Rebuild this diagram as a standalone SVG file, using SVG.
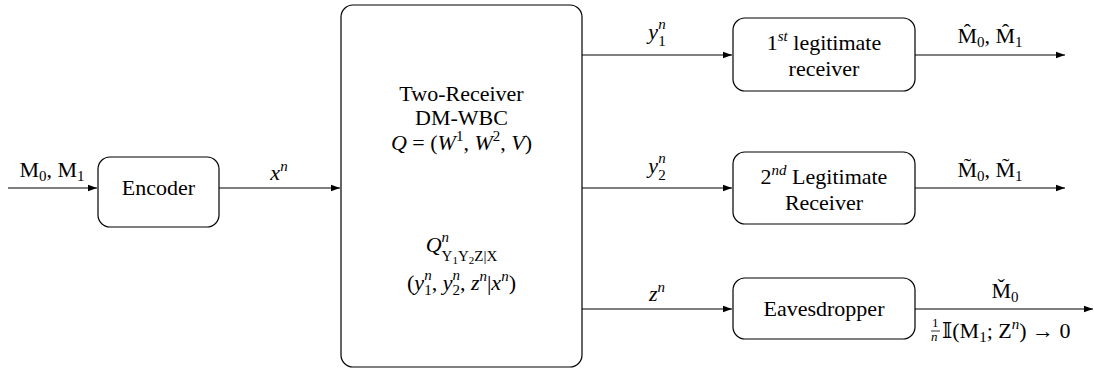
<svg xmlns="http://www.w3.org/2000/svg" width="1094" height="370" viewBox="0 0 1094 370" font-family="'Liberation Serif', 'Times New Roman', 'DejaVu Serif', serif">
<style>
.box{fill:#fff;stroke:#000;stroke-width:1.2}
.ln{fill:none;stroke:#000;stroke-width:1.2}
text{font-family:'Liberation Serif','Times New Roman','DejaVu Serif',serif;font-size:22px;fill:#000}
.c{text-anchor:middle}
.i{font-style:italic}
.s{font-size:15px}
.ss{font-size:11px}
.f{font-size:13px}
</style>
<defs>
<marker id="ah" markerWidth="10" markerHeight="8" refX="9" refY="4" orient="auto" markerUnits="userSpaceOnUse">
<path d="M0,0.8 L9,4 L0,7.2 Z" fill="#000"/>
</marker>
</defs>
<g id="connectors">
<line class="ln" x1="8" y1="188" x2="97" y2="188" marker-end="url(#ah)"/>
<line class="ln" x1="219" y1="188" x2="340" y2="188" marker-end="url(#ah)"/>
<line class="ln" x1="582" y1="55" x2="732" y2="55" marker-end="url(#ah)"/>
<line class="ln" x1="582" y1="188" x2="732" y2="188" marker-end="url(#ah)"/>
<line class="ln" x1="582" y1="309" x2="732" y2="309" marker-end="url(#ah)"/>
<line class="ln" x1="915" y1="55" x2="1065" y2="55" marker-end="url(#ah)"/>
<line class="ln" x1="915" y1="188" x2="1065" y2="188" marker-end="url(#ah)"/>
<line class="ln" x1="915" y1="309" x2="1093" y2="309" marker-end="url(#ah)"/>
<text class="c" x="52" y="177">M<tspan class="s" dy="4">0</tspan><tspan dy="-4">, M</tspan><tspan class="s" dy="4">1</tspan></text>
<text class="c" x="279" y="180"><tspan class="i">x</tspan><tspan class="s i" dy="-9">n</tspan></text>
<text class="c" x="657" y="39"><tspan class="i">y</tspan><tspan class="s i" dy="-10">n</tspan><tspan class="s" dx="-7.5" dy="17">1</tspan></text>
<text class="c" x="657" y="173"><tspan class="i">y</tspan><tspan class="s i" dy="-10">n</tspan><tspan class="s" dx="-7.5" dy="17">2</tspan></text>
<text class="c" x="657" y="301"><tspan class="i">z</tspan><tspan class="s i" dy="-9">n</tspan></text>
<text class="c" x="990" y="43">M̂<tspan class="s" dy="4">0</tspan><tspan dy="-4">, M̂</tspan><tspan class="s" dy="4">1</tspan></text>
<text class="c" x="990" y="177">M̃<tspan class="s" dy="4">0</tspan><tspan dy="-4">, M̃</tspan><tspan class="s" dy="4">1</tspan></text>
<text class="c" x="1005" y="298">M̌<tspan class="s" dy="4">0</tspan></text>
<text class="f" x="932" y="327">1</text>
<line x1="931" y1="331" x2="940" y2="331" stroke="#000" stroke-width="0.8"/>
<text class="f i" x="931" y="341">n</text>
<text x="942" y="338">𝕀(M<tspan class="s" dy="4">1</tspan><tspan dy="-4">; Z</tspan><tspan class="s i" dy="-9">n</tspan><tspan dy="9">) → 0</tspan></text>
</g>
<g id="encoder">
<rect class="box" x="98" y="157" width="121" height="70" rx="12"/>
<text class="c" x="158.5" y="195">Encoder</text>
</g>
<g id="channel">
<rect class="box" x="341" y="5" width="241" height="362" rx="12"/>
<text class="c" x="461.5" y="101">Two-Receiver</text>
<text class="c" x="461.5" y="125">DM-WBC</text>
<text class="c" x="461.5" y="150"><tspan class="i">Q</tspan> = (<tspan class="i">W</tspan><tspan class="s" dy="-9">1</tspan><tspan dy="9">, </tspan><tspan class="i">W</tspan><tspan class="s" dy="-9">2</tspan><tspan dy="9">, </tspan><tspan class="i">V</tspan>)</text>
<text class="c" x="461.5" y="252"><tspan class="i">Q</tspan><tspan class="s i" dy="-10">n</tspan><tspan class="s" dx="-7.5" dy="19">Y</tspan><tspan class="ss" dy="3">1</tspan><tspan class="s" dy="-3">Y</tspan><tspan class="ss" dy="3">2</tspan><tspan class="s" dy="-3">Z|X</tspan></text>
<text class="c" x="461.5" y="290">(<tspan class="i">y</tspan><tspan class="s i" dy="-10">n</tspan><tspan class="s" dx="-7.5" dy="15">1</tspan><tspan dy="-5">, </tspan><tspan class="i">y</tspan><tspan class="s i" dy="-10">n</tspan><tspan class="s" dx="-7.5" dy="15">2</tspan><tspan dy="-5">, </tspan><tspan class="i">z</tspan><tspan class="s i" dy="-9">n</tspan><tspan dy="9">|</tspan><tspan class="i">x</tspan><tspan class="s i" dy="-9">n</tspan><tspan dy="9">)</tspan></text>
</g>
<g id="receiver1">
<rect class="box" x="733" y="18" width="182" height="73" rx="12"/>
<text class="c" x="824" y="50">1<tspan class="s i" dy="-9">st</tspan><tspan dy="9"> legitimate</tspan></text>
<text class="c" x="824" y="76">receiver</text>
</g>
<g id="receiver2">
<rect class="box" x="733" y="152" width="182" height="72" rx="12"/>
<text class="c" x="824" y="184">2<tspan class="s i" dy="-9">nd</tspan><tspan dy="9"> Legitimate</tspan></text>
<text class="c" x="824" y="210">Receiver</text>
</g>
<g id="eavesdropper">
<rect class="box" x="733" y="278" width="182" height="61" rx="12"/>
<text class="c" x="824" y="316">Eavesdropper</text>
</g>
</svg>
